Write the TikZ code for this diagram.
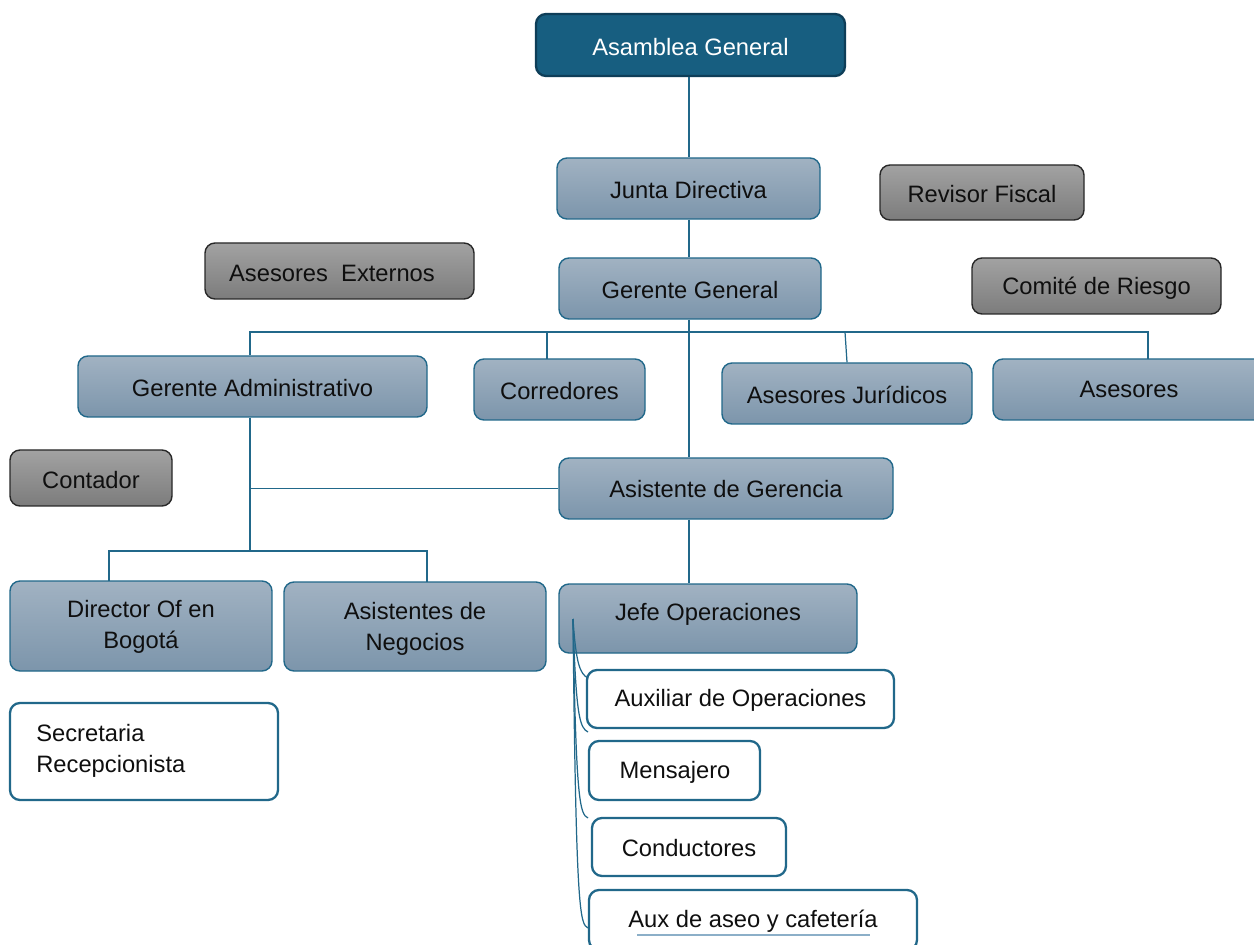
\documentclass[tikz,border=0pt]{standalone}
\usepackage{fontspec}
\setmainfont{Liberation Sans}
\usetikzlibrary{fit}

\definecolor{linkblue}{RGB}{33,104,138}
\definecolor{headfill}{RGB}{23,94,128}
\definecolor{headdraw}{RGB}{14,62,88}
\definecolor{steeltop}{RGB}{161,178,194}
\definecolor{steelbot}{RGB}{124,149,171}
\definecolor{greytop}{RGB}{162,162,162}
\definecolor{greybot}{RGB}{124,124,124}
\definecolor{greydraw}{RGB}{40,40,40}
\definecolor{textdark}{RGB}{15,15,15}
\definecolor{faintblue}{RGB}{140,175,200}

\tikzset{
  textsty/.style={inner sep=0pt, align=center, text=textdark,
    font=\fontsize{13.5}{17.5}\selectfont},
  caption/.style={label={[textsty, yshift=-1pt]center:{#1}}},
  whitecaption/.style={label={[textsty, text=white, yshift=-1pt]center:{#1}}},
  orgbase/.style={rounded corners=0.2cm, inner sep=0pt},
  headbox/.style={orgbase, fill=headfill, draw=headdraw, line width=1.3pt},
  steelbox/.style={orgbase, top color=steeltop, bottom color=steelbot,
    draw=linkblue, line width=0.8pt},
  greybox/.style={orgbase, top color=greytop, bottom color=greybot,
    draw=greydraw, line width=0.8pt},
  whitebox/.style={orgbase, fill=white, draw=linkblue, line width=1.3pt},
  link/.style={draw=linkblue, line width=0.7pt},
}

\begin{document}
\begin{tikzpicture}[x=0.02cm, y=-0.02cm]
\clip (0,0) rectangle (1254,945);
\fill[white] (0,0) rectangle (1254,945);

% top of the hierarchy
\node[headbox, fit={(536,14) (845,76)}, whitecaption={Asamblea General}] (asamblea) {};
\node[steelbox, fit={(557,158) (820,219)}, caption={Junta Directiva}] (junta) {};
\node[steelbox, fit={(559,258) (821,319)}, caption={Gerente General}] (gerente) {};

% advisory boxes
\node[greybox, fit={(880,165) (1084,220)}, caption={Revisor Fiscal}] (revisor) {};
\node[greybox, fit={(972,258) (1221,314)}, caption={Comité de Riesgo}] (comite) {};
\node[greybox, fit={(205,243) (474,299)}] (externos) {};
\node[textsty] (externostxt) at (332,273) {Asesores~~Externos};
\node[greybox, fit={(10,450) (172,506)}, caption={Contador}] (contador) {};

% second level
\node[steelbox, fit={(78,356) (427,417)}, caption={Gerente Administrativo}] (gadmin) {};
\node[steelbox, fit={(474,359) (645,420)}, caption={Corredores}] (corredores) {};
\node[steelbox, fit={(722,363) (972,424)}, caption={Asesores Jurídicos}] (juridicos) {};
\node[steelbox, fit={(993,359) (1265,420)}] (financieros) {};
\node[textsty] (financierostxt) at (1129,389) {Asesores};
\node[steelbox, fit={(559,458) (893,519)}] (asisger) {};
\node[textsty] (asisgertxt) at (726,489) {Asistente de Gerencia};

% administrative branch
\node[steelbox, fit={(10,581) (272,671)}] (dirbog) {};
\node[textsty] (dirbogtxt) at (141,627) {Director Of en\\Bogotá};
\node[steelbox, fit={(284,582) (546,671)}] (asneg) {};
\node[textsty] (asnegtxt) at (415,629) {Asistentes de\\Negocios};
\node[whitebox, fit={(10,703) (278,800)}] (secretaria) {};
\node[textsty, anchor=west, align=left] (secretariatxt) at (36,751)
  {Secretaria\\Recepcionista};

% operations branch
\node[steelbox, fit={(559,584) (857,653)}] (jefe) {};
\node[textsty] (jefetxt) at (708,614) {Jefe Operaciones};
\node[whitebox, fit={(587,670) (894,728)}, caption={Auxiliar de Operaciones}] (auxop) {};
\node[whitebox, fit={(589,741) (760,800)}] (mensajero) {};
\node[textsty] (mensajerotxt) at (675,772) {Mensajero};
\node[whitebox, fit={(592,818) (786,876)}] (conductores) {};
\node[textsty] (conductorestxt) at (689,848) {Conductores};
\node[whitebox, fit={(589,890) (917,950)}] (aseo) {};
\node[textsty] (aseotxt) at (753,921) {Aux de aseo y cafetería};
\draw[faintblue, line width=0.6pt] (637,935) -- (870,935);

% junction points of the connectors
\coordinate (spine) at (689,332);
\coordinate (corrTop) at (547,359);
\coordinate (finTop) at (1148,359);
\coordinate (adminJoin) at (250,551);
\coordinate (dirTop) at (109,581);
\coordinate (negTop) at (427,582);
\coordinate (hook) at (573,619);
\coordinate (h1) at (588,678);
\coordinate (h2) at (588,732);
\coordinate (h3) at (588,818);
\coordinate (h4) at (588,928);

% main line
\draw[link] (asamblea.south -| spine) -- (junta.north -| spine);
\draw[link] (junta.south -| spine) -- (gerente.north -| spine);
\draw[link] (gerente.south -| spine) -- (asisger.north -| spine);
\draw[link] (asisger.south -| spine) -- (jefe.north -| spine);

% horizontal bus under the general manager
\draw[link] (gadmin.north -| adminJoin) |- (finTop |- spine) -- (finTop);
\draw[link] (corrTop |- spine) -- (corrTop);
\draw[link] (845,332) -- (juridicos.north);

% administrative branch
\draw[link] (gadmin.south -| adminJoin) -- (adminJoin);
\draw[link] (asisger.west) -- (asisger.west -| adminJoin);
\draw[link] (dirTop) |- (adminJoin) -| (negTop);

% operations branch hooks
\foreach \h/\y in {h1/678, h2/732, h3/818, h4/928}{
  \draw[link] (hook) .. controls (576,\y-14) and (580,\y-4) .. (\h);
}
\end{tikzpicture}
\end{document}
